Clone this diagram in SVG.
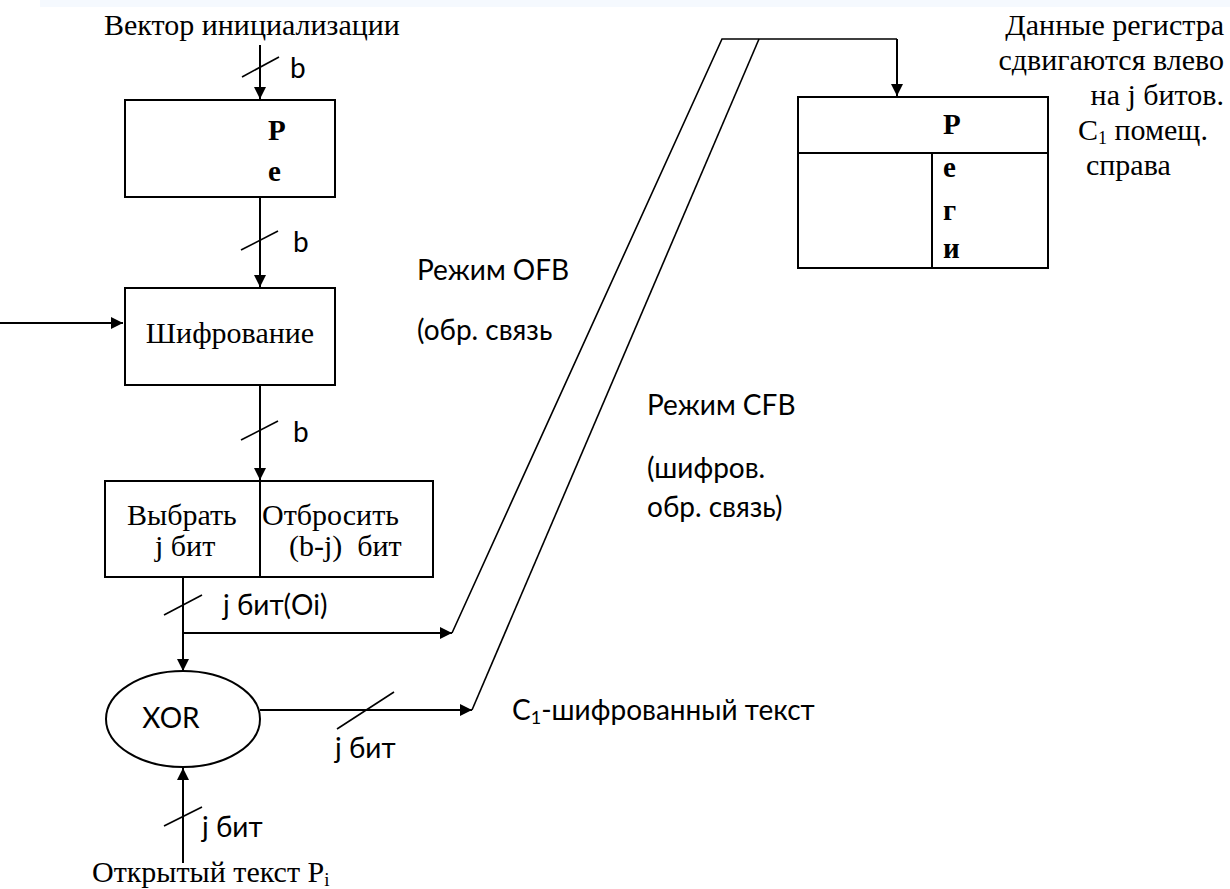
<svg xmlns="http://www.w3.org/2000/svg" width="1230" height="889" viewBox="0 0 1230 889">
  <style>
    .serif { font-family: "Liberation Serif", "Times New Roman", serif; font-size: 30px; fill: #000; }
    .bold { font-weight: bold; font-size: 29px; }
    .sans { font-family: Lato, "Liberation Sans", sans-serif; font-size: 28px; fill: #000; }
    .box { fill: #fff; stroke: #000; stroke-width: 2; }
    .wire { fill: none; stroke: #000; stroke-width: 2; }
    .thin { fill: none; stroke: #000; stroke-width: 1.6; }
    .tick { stroke: #000; stroke-width: 1.6; }
  </style>
  <defs>
    <marker id="arrow" viewBox="0 0 12 12" refX="12" refY="6" markerWidth="12" markerHeight="12" markerUnits="userSpaceOnUse" orient="auto">
      <path d="M0,0 L12,6 L0,12 z" fill="#000"/>
    </marker>
  </defs>

  <rect x="40" y="0" width="1190" height="7" fill="#f5f9fe"/>

  <!-- labels -->
  <text class="serif" x="104" y="35">Вектор инициализации</text>
  <g id="note-shift" class="serif" text-anchor="end" font-size="28">
    <text x="1224" y="35">Данные регистра</text>
    <text x="1224" y="70">сдвигаются влево</text>
    <text x="1224" y="105">на j битов.</text>
    <text x="1078" y="140" text-anchor="start">C<tspan font-size="18" dy="4">1</tspan><tspan dy="-4"> помещ.</tspan></text>
    <text x="1086" y="175" text-anchor="start">справа</text>
  </g>
  <g id="label-ofb" class="sans">
    <text x="417" y="280">Режим OFB</text>
    <text x="417" y="340">(обр. связь</text>
  </g>
  <g id="label-cfb" class="sans">
    <text x="647" y="415">Режим CFB</text>
    <text x="647" y="478">(шифров.</text>
    <text x="647" y="517">обр. связь)</text>
  </g>

  <!-- input register -->
  <g id="reg-in">
    <rect class="box" x="125" y="100" width="210" height="97"/>
    <text class="serif bold" x="268" y="140">Р</text>
    <text class="serif bold" x="268" y="181">е</text>
  </g>

  <!-- encryption block -->
  <g id="encrypt">
    <rect class="box" x="125" y="288" width="210" height="97"/>
    <text class="serif" x="230" y="343" text-anchor="middle">Шифрование</text>
  </g>

  <!-- select / discard block -->
  <g id="select">
    <rect class="box" x="105" y="481" width="328" height="96"/>
    <line class="wire" x1="260" y1="481" x2="260" y2="577"/>
    <text class="serif" x="127" y="525">Выбрать</text>
    <text class="serif" x="155" y="556">j бит</text>
    <text class="serif" x="262" y="525">Отбросить</text>
    <text class="serif" x="289" y="556" xml:space="preserve">(b-j)  бит</text>
  </g>

  <!-- XOR -->
  <g id="xor">
    <ellipse class="box" cx="183" cy="719" rx="77" ry="48"/>
    <text class="sans" x="171" y="728" text-anchor="middle" font-size="27">XOR</text>
  </g>

  <!-- shift register -->
  <g id="reg-shift">
    <rect class="box" x="798" y="97" width="250" height="171"/>
    <line class="wire" x1="798" y1="153" x2="1048" y2="153"/>
    <line class="wire" x1="932" y1="153" x2="932" y2="268"/>
    <text class="serif bold" x="943" y="134">Р</text>
    <text class="serif bold" x="943" y="177">е</text>
    <text class="serif bold" x="943" y="220">г</text>
    <text class="serif bold" x="943" y="258">и</text>
  </g>

  <!-- connectors -->
  <g id="connectors">
    <line class="wire" x1="260" y1="45" x2="260" y2="99" marker-end="url(#arrow)"/>
    <line class="tick" x1="242" y1="77" x2="279" y2="57"/>
    <text class="sans" x="290" y="78">b</text>

    <line class="wire" x1="260" y1="197" x2="260" y2="287" marker-end="url(#arrow)"/>
    <line class="tick" x1="241" y1="250" x2="278" y2="231"/>
    <text class="sans" x="293" y="252">b</text>

    <line class="wire" x1="0" y1="323" x2="123" y2="323" marker-end="url(#arrow)"/>

    <line class="wire" x1="260" y1="385" x2="260" y2="480" marker-end="url(#arrow)"/>
    <line class="tick" x1="241" y1="440" x2="278" y2="421"/>
    <text class="sans" x="293" y="442">b</text>

    <line class="wire" x1="183" y1="577" x2="183" y2="671" marker-end="url(#arrow)"/>
    <line class="tick" x1="164" y1="615" x2="202" y2="595"/>
    <text class="sans" x="223" y="615">j бит(Oi)</text>
    <line class="wire" x1="183" y1="633" x2="452" y2="633" marker-end="url(#arrow)"/>

    <line class="wire" x1="260" y1="710" x2="472" y2="710" marker-end="url(#arrow)"/>
    <line class="tick" x1="337" y1="729" x2="394" y2="692"/>
    <text class="sans" x="335" y="758">j бит</text>
    <text class="sans" x="512" y="720">C<tspan font-size="18" dy="4">1</tspan><tspan dy="-4">-шифрованный текст</tspan></text>

    <line class="wire" x1="183" y1="863" x2="183" y2="768" marker-end="url(#arrow)"/>
    <line class="tick" x1="164" y1="826" x2="202" y2="807"/>
    <text class="sans" x="202" y="837">j бит</text>
    <text class="serif" x="92" y="882">Открытый текст P<tspan font-size="19" dy="4">i</tspan></text>

    <!-- feedback paths -->
    <polyline class="thin" points="452,633 722,39 897,39"/>
    <polyline class="thin" points="472,710 759,39"/>
    <line class="wire" x1="897" y1="39" x2="897" y2="96" marker-end="url(#arrow)"/>
  </g>
</svg>
